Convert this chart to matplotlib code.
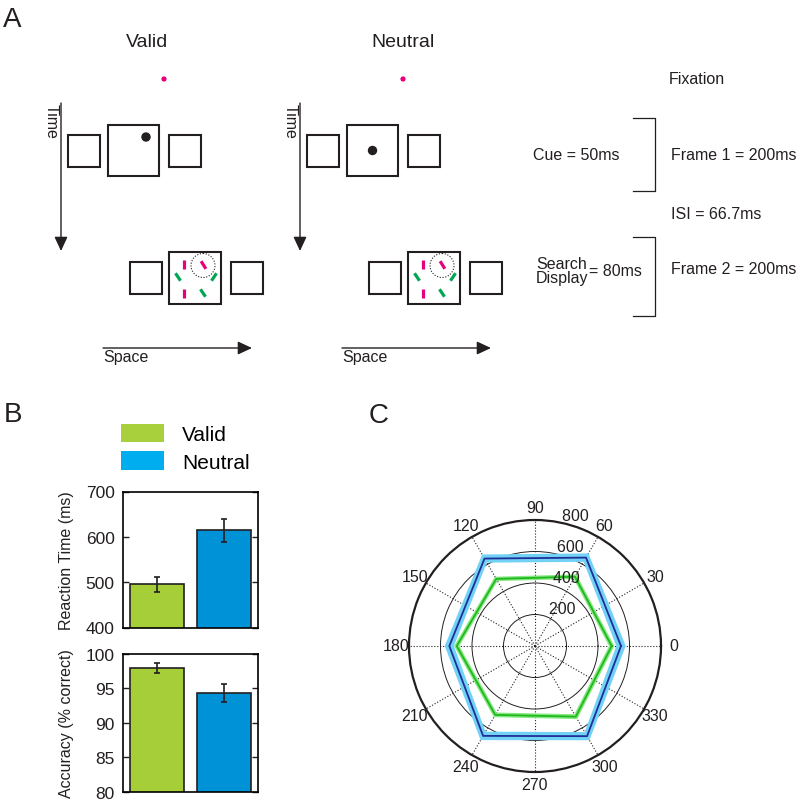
import matplotlib
matplotlib.use("Agg")
import matplotlib.pyplot as plt
import numpy as np
from matplotlib.patches import Rectangle, Circle, Patch

plt.rcParams["font.family"] = ["Liberation Sans", "DejaVu Sans"]

INK = "#231f20"
MAGENTA = "#e5007d"
ITEM_GREEN = "#00a651"

# ---- panel B: mean RT and accuracy per cue condition
conditions = ["Valid", "Neutral"]
rt_mean = [495, 614]
rt_sem = [17, 26]
acc_mean = [98.0, 94.3]
acc_sem = [0.7, 1.3]
bar_colors = ["#a6ce39", "#0092d6"]
legend_colors = ["#a8d03c", "#00aeef"]

# ---- panel C: RT by target location (deg)
target_angles = [0, 60, 120, 180, 240, 300]
neutral_rt = [546, 648, 641, 544, 659, 661]
neutral_rt_sem = [30, 31, 30, 29, 31, 30]
valid_rt = [487, 508, 492, 497, 505, 518]
valid_rt_sem = [17, 17, 16, 17, 17, 18]
theta_ticks = [0, 30, 60, 90, 120, 150, 180, 210, 240, 270, 300, 330]
r_ticks = [200, 400, 600, 800]

# ---- panel A: trial timing labels
timing_labels = ["Cue = 50ms", "Frame 1 = 200ms", "ISI = 66.7ms", "Frame 2 = 200ms"]

# search display items: offset from box centre (px), tilt from vertical (deg), colour
search_items = [
    (-11, -14, 0, MAGENTA),
    (8.5, -13, 32, MAGENTA),
    (-17, -1, 34, ITEM_GREEN),
    (19, -1, -34, ITEM_GREEN),
    (-11, 15, 0, MAGENTA),
    (8, 15, 34, ITEM_GREEN),
]


def arrow(ax, start, end):
    ax.annotate("", xy=end, xytext=start,
                arrowprops=dict(arrowstyle="-|>,head_length=0.86,head_width=0.4",
                                mutation_scale=10, lw=1, color=INK,
                                shrinkA=0, shrinkB=0))


def draw_condition(ax, dx, title, title_x, cue_offset):
    ax.text(title_x, 47, title, ha="center", va="baseline", fontsize=14, color=INK)
    ax.add_patch(Circle((164 + dx, 80), 2.6, color=MAGENTA, lw=0))

    # time / space axes
    arrow(ax, (61 + dx, 104), (61 + dx, 252))
    ax.text(47 + dx, 104, "Time", rotation=-90, rotation_mode="anchor",
            ha="left", va="baseline", fontsize=11.5, color=INK)
    arrow(ax, (103 + dx, 349), (252 + dx, 349))
    ax.text(103 + dx, 362.5, "Space", ha="left", va="baseline", fontsize=11.5, color=INK)

    # frame 1: placeholders + cue
    for x, y, s in [(68, 136, 32), (108, 126, 51), (169, 136, 32)]:
        ax.add_patch(Rectangle((x + dx, y), s, s, fill=False, lw=1.5, ec=INK))
    ax.add_patch(Circle((133.5 + dx + cue_offset[0], 151.5 + cue_offset[1]), 4, color=INK))

    # frame 2: search display
    for x, y, s in [(130, 263, 32), (169, 253, 52), (231, 263, 32)]:
        ax.add_patch(Rectangle((x + dx, y), s, s, fill=False, lw=1.5, ec=INK))
    cx, cy = 195 + dx, 279
    ax.add_patch(Circle((cx + 8, cy - 12.5), 12, fill=False, ls=(0, (1, 1.5)),
                        lw=0.8, ec=INK))
    for ox, oy, tilt, col in search_items:
        hx = 4.5 * np.sin(np.deg2rad(tilt))
        hy = 4.5 * np.cos(np.deg2rad(tilt))
        ax.plot([cx + ox - hx, cx + ox + hx], [cy + oy - hy, cy + oy + hy],
                color=col, lw=2.3, solid_capstyle="butt")


fig = plt.figure(figsize=(8, 8.03), dpi=100)

# overlay in pixel units for the schematic and panel letters
diag = fig.add_axes([0, 0, 1, 1])
diag.set_xlim(0, 800)
diag.set_ylim(803, 0)
diag.axis("off")

for letter, x, y in [("A", 3, 27), ("B", 4, 422), ("C", 369, 423)]:
    diag.text(x, y, letter, fontsize=20, va="baseline", ha="left", color=INK)

draw_condition(diag, 0, "Valid", 147, (12.5, -13.5))
draw_condition(diag, 239, "Neutral", 403, (0, 0))

diag.text(669, 84, "Fixation", fontsize=11.5, va="baseline", color=INK)
diag.text(533, 160, timing_labels[0], fontsize=11.5, va="baseline", color=INK)
diag.text(671, 160, timing_labels[1], fontsize=11.5, va="baseline", color=INK)
diag.text(671, 219, timing_labels[2], fontsize=11.5, va="baseline", color=INK)
diag.text(671, 274, timing_labels[3], fontsize=11.5, va="baseline", color=INK)
diag.text(536, 257, "Search\nDisplay", fontsize=11.5, va="top", ha="left",
          linespacing=0.88, color=INK)
diag.text(589, 276, "= 80ms", fontsize=11.5, va="baseline", color=INK)
for top, bottom in [(119, 192), (238, 317)]:
    diag.plot([633, 655, 655, 633], [top, top, bottom, bottom], color=INK, lw=0.9)

# ---- panel B
x = np.arange(1, len(conditions) + 1)
ax_rt = fig.add_axes([123 / 800, (803 - 628.5) / 803, 135 / 800, 136 / 803])
ax_acc = fig.add_axes([123 / 800, (803 - 792.7) / 803, 135 / 800, 137.7 / 803])
for ax, mean, sem, ylim, ticks, label in [
    (ax_rt, rt_mean, rt_sem, (400, 700), [400, 500, 600, 700], "Reaction Time (ms)"),
    (ax_acc, acc_mean, acc_sem, (80, 100), [80, 85, 90, 95, 100], "Accuracy (% correct)"),
]:
    ax.bar(x, mean, width=0.8, color=bar_colors, edgecolor=INK, lw=1.2,
           yerr=sem, error_kw=dict(ecolor=INK, elinewidth=1.2, capsize=2.5, capthick=1.2))
    ax.set_xlim(0.5, 2.5)
    ax.set_ylim(*ylim)
    ax.set_yticks(ticks)
    ax.set_xticks([])
    ax.tick_params(axis="y", direction="in", right=True, length=4, pad=6,
                   labelsize=12.5, colors=INK, width=1)
    for sp in ax.spines.values():
        sp.set_linewidth(1.2)
    ax.set_ylabel(label, fontsize=11.5, color=INK)
    ax.yaxis.set_label_coords(-0.36, 0.5)

handles = [Patch(facecolor=c, edgecolor="none") for c in legend_colors]
fig.legend(handles, conditions, loc="upper left", bbox_to_anchor=(106 / 800, 1 - 410 / 803),
           frameon=False, fontsize=15, handlelength=2.1, handleheight=1.0,
           handletextpad=0.85, labelspacing=0.35, borderpad=0.2)

# ---- panel C
pax = fig.add_axes([409 / 800, 30 / 803, 252 / 800, 252 / 803], projection="polar")
pax.set_ylim(0, 800)
pax.set_yticks(r_ticks[:-1])
pax.set_xticks(np.deg2rad(theta_ticks))
pax.set_xticklabels([])
pax.set_yticklabels([])
pax.xaxis.grid(True, linestyle=":", color=INK, lw=0.8)
pax.yaxis.grid(True, linestyle="-", color=INK, lw=0.7)
pax.spines["polar"].set_linewidth(1.6)
pax.spines["polar"].set_color(INK)

th = np.deg2rad(np.append(target_angles, target_angles[0]))
for rt, sem, band, line in [
    (neutral_rt, neutral_rt_sem, "#72d2f6", "#1f2f96"),
    (valid_rt, valid_rt_sem, "#86e880", "#1fb81f"),
]:
    rt = np.append(rt, rt[0])
    sem = np.append(sem, sem[0])
    pax.fill(np.concatenate([th, th[::-1]]),
             np.concatenate([rt + sem, (rt - sem)[::-1]]),
             color=band, lw=0, zorder=3)
    pax.plot(th, rt, color=line, lw=1.3, zorder=4)

for a in theta_ticks:
    pax.text(np.deg2rad(a), 880, str(a), ha="center", va="center",
             fontsize=11.5, color=INK)
for r in r_ticks:
    pax.text(np.deg2rad(82), r + 10, "  " + str(r), ha="left", va="baseline",
             fontsize=11.5, color=INK, zorder=5)

fig.savefig("out.png", dpi=100)
